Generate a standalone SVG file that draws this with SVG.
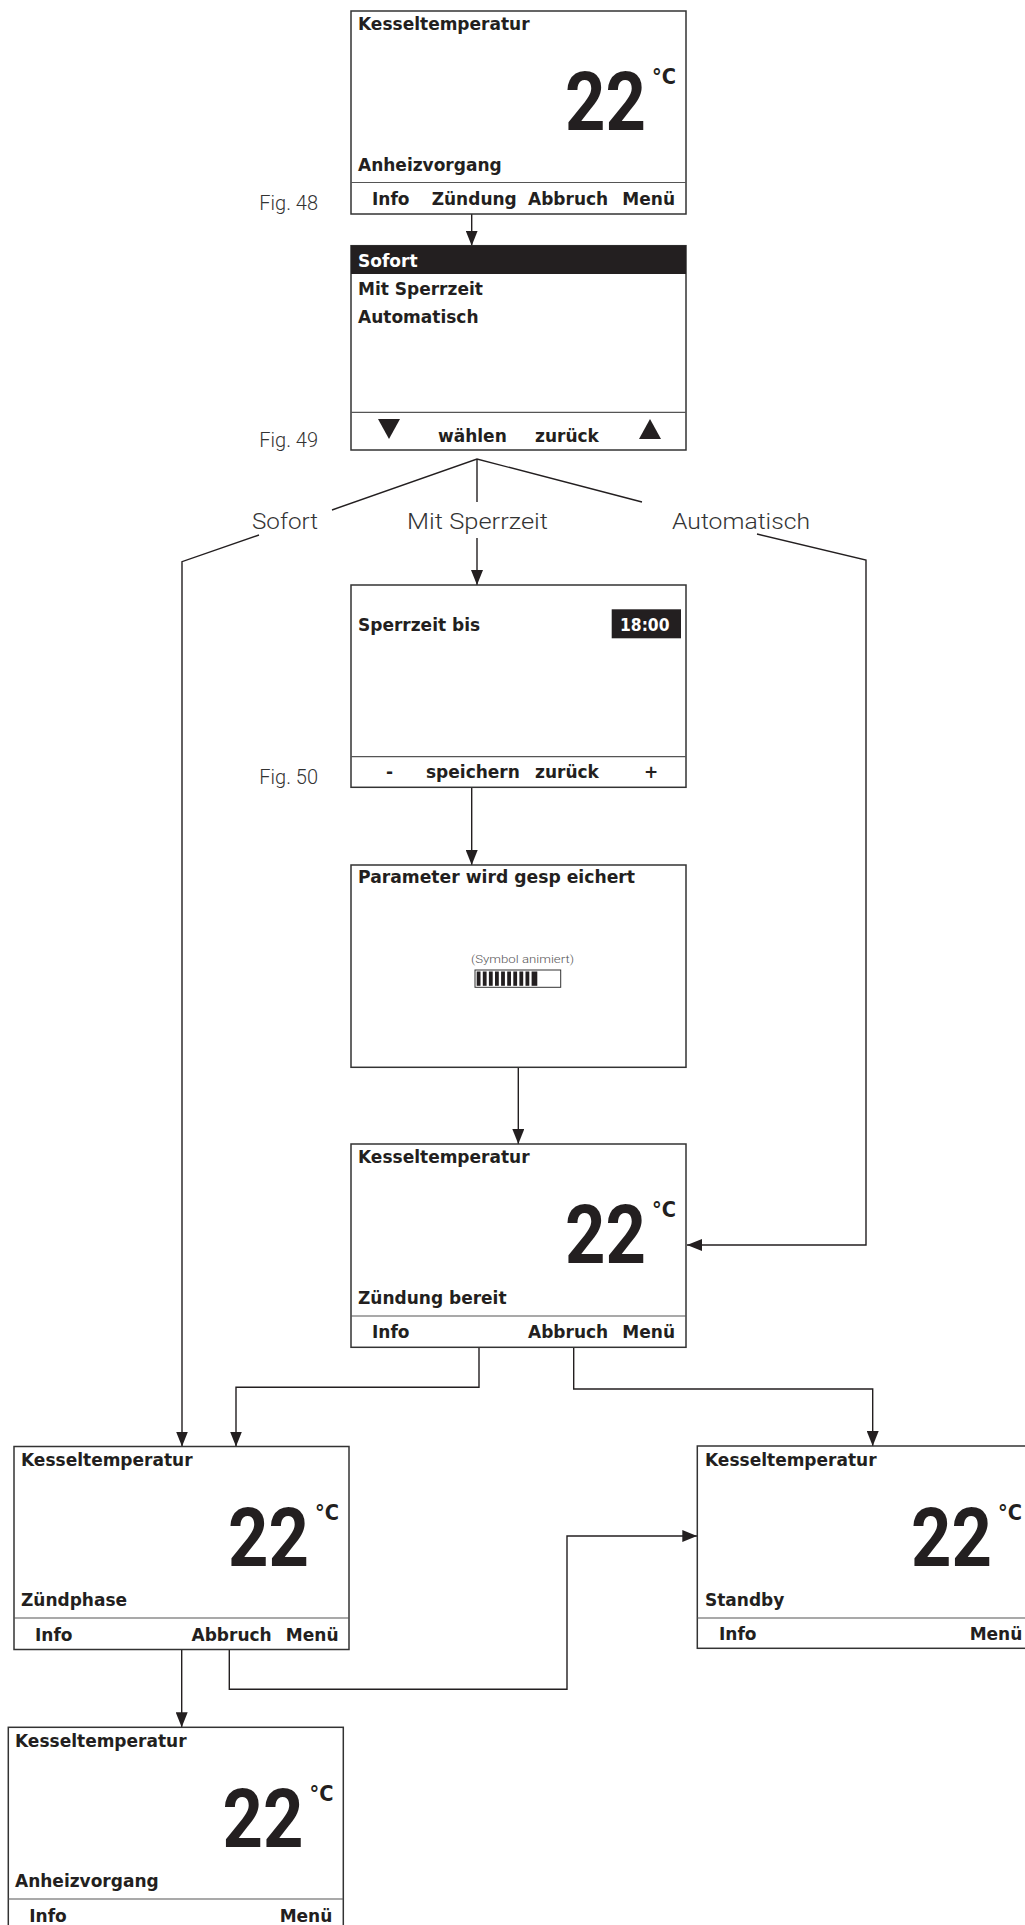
<svg xmlns="http://www.w3.org/2000/svg" width="1025" height="1925" viewBox="0 0 1025 1925">
<defs>
<style>
.box{fill:#fff;stroke:#333;stroke-width:1.5}
.sep{stroke:#555;stroke-width:1.2}
.t{font-family:"DejaVu Sans","Liberation Sans",sans-serif;font-weight:bold;font-size:17px;fill:#231f20}
.w{fill:#fff}
.big{font-family:Roboto,"Liberation Sans",sans-serif;font-weight:bold;font-size:81px;fill:#231f20}
.deg{font-family:"DejaVu Sans","Liberation Sans",sans-serif;font-weight:bold;font-size:21px;fill:#231f20}
.lbl{font-family:Roboto,"Liberation Sans",sans-serif;font-weight:300;font-size:22px;fill:#333}
.fig{font-family:Roboto,"Liberation Sans",sans-serif;font-weight:300;font-size:20px;fill:#333}
.small{font-family:Roboto,"Liberation Sans",sans-serif;font-weight:300;font-size:10.5px;fill:#555}
.conn{fill:none;stroke:#231f20;stroke-width:1.4}
.tri{fill:#231f20}
</style>
<marker id="arr" markerUnits="userSpaceOnUse" markerWidth="15" markerHeight="12" refX="15" refY="6" orient="auto">
<path d="M0,0 L15,6 L0,12 z" fill="#231f20"/>
</marker>
</defs>

<g id="fig-labels">
<text class="fig" x="318" y="210" text-anchor="end">Fig. 48</text>
<text class="fig" x="318" y="447" text-anchor="end">Fig. 49</text>
<text class="fig" x="318" y="784" text-anchor="end">Fig. 50</text>
</g>

<g id="branch-labels">
<text class="lbl" x="252" y="529" textLength="66" lengthAdjust="spacingAndGlyphs">Sofort</text>
<text class="lbl" x="407" y="529" textLength="141" lengthAdjust="spacingAndGlyphs">Mit Sperrzeit</text>
<text class="lbl" x="672" y="529" textLength="138" lengthAdjust="spacingAndGlyphs">Automatisch</text>
</g>

<g id="connectors">
<line class="conn" x1="471.7" y1="213" x2="471.7" y2="245.7" marker-end="url(#arr)"/>
<polyline class="conn" points="332,510 477,459 642,502"/>
<line class="conn" x1="477" y1="459" x2="477" y2="502"/>
<line class="conn" x1="477" y1="538" x2="477" y2="585" marker-end="url(#arr)"/>
<polyline class="conn" points="259,535 182,561.7 182,1446.5" marker-end="url(#arr)"/>
<polyline class="conn" points="757,534 866,560 866,1245 687,1245" marker-end="url(#arr)"/>
<line class="conn" x1="471.7" y1="787.3" x2="471.7" y2="865" marker-end="url(#arr)"/>
<line class="conn" x1="518.3" y1="1067.3" x2="518.3" y2="1144" marker-end="url(#arr)"/>
<polyline class="conn" points="479,1347 479,1387.3 236,1387.3 236,1446.5" marker-end="url(#arr)"/>
<polyline class="conn" points="573.7,1347 573.7,1389 872.7,1389 872.7,1446" marker-end="url(#arr)"/>
<line class="conn" x1="181.7" y1="1649.5" x2="181.7" y2="1727.3" marker-end="url(#arr)"/>
<polyline class="conn" points="229.3,1649.5 229.3,1689.3 567,1689.3 567,1536 697.3,1536" marker-end="url(#arr)"/>
</g>

<g id="fig48">
<rect class="box" x="351" y="11" width="335" height="203"/>
<line class="sep" x1="351" y1="182.5" x2="686" y2="182.5"/>
<text class="t" x="358" y="30">Kesseltemperatur</text>
<text class="big" x="646" y="130" text-anchor="end" textLength="81" lengthAdjust="spacingAndGlyphs">22</text>
<text class="deg" x="652" y="84" textLength="24" lengthAdjust="spacingAndGlyphs">°C</text>
<text class="t" x="358" y="170.5">Anheizvorgang</text>
<text class="t" x="372" y="204.5">Info</text>
<text class="t" x="431.7" y="204.5">Zündung</text>
<text class="t" x="528" y="204.5">Abbruch</text>
<text class="t" x="675" y="204.5" text-anchor="end">Menü</text>
</g>

<g id="fig49">
<rect class="box" x="351" y="245.7" width="335" height="204.3"/>
<rect x="351" y="245.7" width="335" height="28.3" fill="#231f20"/>
<text class="t w" x="358" y="266.7">Sofort</text>
<text class="t" x="358" y="295">Mit Sperrzeit</text>
<text class="t" x="358" y="323.3">Automatisch</text>
<line class="sep" x1="351" y1="412.3" x2="686" y2="412.3"/>
<polygon class="tri" points="378,419 400,419 389,439"/>
<text class="t" x="438" y="441.7">wählen</text>
<text class="t" x="535" y="441.7">zurück</text>
<polygon class="tri" points="639,439 661,439 650,419"/>
</g>

<g id="fig50">
<rect class="box" x="351" y="585" width="335" height="202.3"/>
<text class="t" x="358" y="631">Sperrzeit bis</text>
<rect x="611.7" y="609.3" width="69.3" height="29" fill="#231f20"/>
<text class="t w" x="620" y="631" textLength="49.5" lengthAdjust="spacingAndGlyphs">18:00</text>
<line class="sep" x1="351" y1="756.7" x2="686" y2="756.7"/>
<text class="t" x="386" y="778.3">-</text>
<text class="t" x="426" y="778.3">speichern</text>
<text class="t" x="535" y="778.3">zurück</text>
<text class="t" x="644" y="778.3">+</text>
</g>

<g id="saving">
<rect class="box" x="351" y="865" width="335" height="202.3"/>
<text class="t" x="358" y="883.3" textLength="277" lengthAdjust="spacingAndGlyphs">Parameter wird gesp eichert</text>
<text class="small" x="471" y="963" textLength="103" lengthAdjust="spacingAndGlyphs">(Symbol animiert)</text>
<rect x="475" y="970" width="85.7" height="17.3" fill="#fff" stroke="#333" stroke-width="1"/>
<g fill="#231f20">
<rect x="476.7" y="971.5" width="3.8" height="14.3"/>
<rect x="482.8" y="971.5" width="3.8" height="14.3"/>
<rect x="488.9" y="971.5" width="3.8" height="14.3"/>
<rect x="495" y="971.5" width="3.8" height="14.3"/>
<rect x="501.1" y="971.5" width="3.8" height="14.3"/>
<rect x="507.2" y="971.5" width="3.8" height="14.3"/>
<rect x="513.3" y="971.5" width="3.8" height="14.3"/>
<rect x="519.4" y="971.5" width="3.8" height="14.3"/>
<rect x="525.5" y="971.5" width="3.8" height="14.3"/>
<rect x="531.6" y="971.5" width="5.7" height="14.3"/>
</g>
</g>

<g id="ready">
<rect class="box" x="351" y="1144" width="335" height="203.3"/>
<line class="sep" x1="351" y1="1316" x2="686" y2="1316"/>
<text class="t" x="358" y="1163.3">Kesseltemperatur</text>
<text class="big" x="646" y="1263" text-anchor="end" textLength="81" lengthAdjust="spacingAndGlyphs">22</text>
<text class="deg" x="652" y="1217" textLength="24" lengthAdjust="spacingAndGlyphs">°C</text>
<text class="t" x="358" y="1304">Zündung bereit</text>
<text class="t" x="372" y="1338">Info</text>
<text class="t" x="528" y="1338">Abbruch</text>
<text class="t" x="675" y="1338" text-anchor="end">Menü</text>
</g>

<g id="zuendphase">
<rect class="box" x="14" y="1446.5" width="335" height="203"/>
<line class="sep" x1="14" y1="1618" x2="349" y2="1618"/>
<text class="t" x="21" y="1465.7">Kesseltemperatur</text>
<text class="big" x="309" y="1566" text-anchor="end" textLength="81" lengthAdjust="spacingAndGlyphs">22</text>
<text class="deg" x="315" y="1520" textLength="24" lengthAdjust="spacingAndGlyphs">°C</text>
<text class="t" x="21" y="1605.7">Zündphase</text>
<text class="t" x="35" y="1640.7">Info</text>
<text class="t" x="191.5" y="1640.7">Abbruch</text>
<text class="t" x="338.5" y="1640.7" text-anchor="end">Menü</text>
</g>

<g id="standby">
<rect class="box" x="697.3" y="1446" width="335" height="202.3"/>
<line class="sep" x1="697.3" y1="1618" x2="1032.3" y2="1618"/>
<text class="t" x="705" y="1466">Kesseltemperatur</text>
<text class="big" x="992" y="1566" text-anchor="end" textLength="81" lengthAdjust="spacingAndGlyphs">22</text>
<text class="deg" x="998" y="1519.5" textLength="24" lengthAdjust="spacingAndGlyphs">°C</text>
<text class="t" x="705" y="1606">Standby</text>
<text class="t" x="719" y="1640">Info</text>
<text class="t" x="1022.3" y="1640" text-anchor="end">Menü</text>
</g>

<g id="heating">
<rect class="box" x="8.3" y="1727.3" width="335" height="203"/>
<line class="sep" x1="8.3" y1="1899" x2="343.3" y2="1899"/>
<text class="t" x="15" y="1746.7">Kesseltemperatur</text>
<text class="big" x="303.5" y="1846.5" text-anchor="end" textLength="81" lengthAdjust="spacingAndGlyphs">22</text>
<text class="deg" x="309.5" y="1800.5" textLength="24" lengthAdjust="spacingAndGlyphs">°C</text>
<text class="t" x="15" y="1886.7">Anheizvorgang</text>
<text class="t" x="29.3" y="1921.7">Info</text>
<text class="t" x="332.3" y="1921.7" text-anchor="end">Menü</text>
</g>
</svg>
